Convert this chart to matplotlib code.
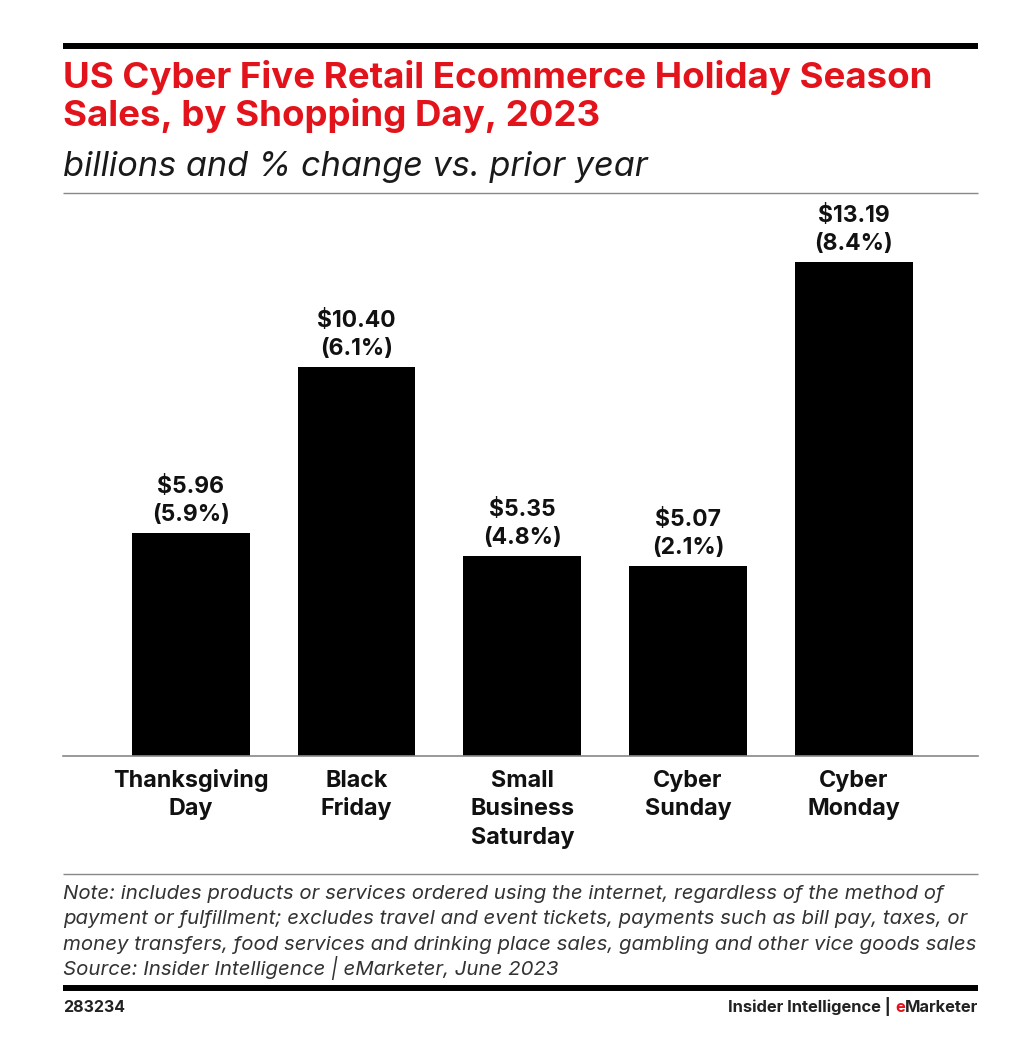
import matplotlib
matplotlib.use("Agg")
import matplotlib.pyplot as plt
from matplotlib.lines import Line2D
from matplotlib.transforms import blended_transform_factory

# data
days = ["Thanksgiving\nDay", "Black\nFriday", "Small\nBusiness\nSaturday", "Cyber\nSunday", "Cyber\nMonday"]
sales = [5.96, 10.40, 5.35, 5.07, 13.19]
pct_change = [5.9, 6.1, 4.8, 2.1, 8.4]

W, H = 1022, 1040
RED = "#e3131b"
plt.rcParams["font.family"] = ["Inter", "DejaVu Sans"]

fig = plt.figure(figsize=(W / 100, H / 100), dpi=100)


def fx(px):
    return px / W


def fy(py):
    return 1 - py / H


def hline(py, lw, color):
    fig.add_artist(Line2D([fx(63), fx(978)], [fy(py), fy(py)], lw=lw, color=color,
                          solid_capstyle="butt"))


# header
hline(46, 4.3, "black")
fig.text(fx(63), fy(88), "US Cyber Five Retail Ecommerce Holiday Season", color=RED,
         fontsize=26.4, fontweight="bold", va="baseline", ha="left")
fig.text(fx(63), fy(126), "Sales, by Shopping Day, 2023", color=RED,
         fontsize=26.4, fontweight="bold", va="baseline", ha="left")
fig.text(fx(63), fy(176), "billions and % change vs. prior year", color="#1a1a1a",
         fontsize=24.7, style="italic", va="baseline", ha="left")
hline(193, 1, "#888888")

# bar chart
ax = fig.add_axes([fx(63), fy(756), fx(978) - fx(63), fy(200) - fy(756)])
x = list(range(len(days)))
ax.bar(x, sales, width=0.71, color="black")
ax.set_xlim(-0.772, 4.75)
ax.set_ylim(0, (756 - 200) / 37.45)
for s in ["top", "right", "left"]:
    ax.spines[s].set_visible(False)
ax.spines["bottom"].set_color("#888888")
ax.spines["bottom"].set_linewidth(1.2)
ax.set_yticks([])
ax.set_xticks([])

# category labels, one line at a time
trans = blended_transform_factory(ax.transData, fig.transFigure)
for xi, name in zip(x, days):
    for k, line in enumerate(name.split("\n")):
        ax.text(xi, fy(787 + 28.3 * k), line, transform=trans, ha="center", va="baseline",
                fontsize=16.8, fontweight="bold", color="#111111")

# value labels above bars
for xi, v, p in zip(x, sales, pct_change):
    ax.annotate(f"({p}%)", (xi, v), xytext=(0, 8.6), textcoords="offset points",
                ha="center", va="baseline", fontsize=16.5, fontweight="bold", color="#111111")
    ax.annotate(f"${v:.2f}", (xi, v), xytext=(0, 8.6 + 20.2), textcoords="offset points",
                ha="center", va="baseline", fontsize=16.5, fontweight="bold", color="#111111")

# footer
hline(874, 1, "#888888")
note_lines = [
    "Note: includes products or services ordered using the internet, regardless of the method of",
    "payment or fulfillment; excludes travel and event tickets, payments such as bill pay, taxes, or",
    "money transfers, food services and drinking place sales, gambling and other vice goods sales",
    "Source: Insider Intelligence | eMarketer, June 2023",
]
for k, line in enumerate(note_lines):
    fig.text(fx(63), fy(899 + 25.4 * k), line, color="#333333", fontsize=14.7, style="italic",
             va="baseline", ha="left")
hline(988, 4.3, "black")
fig.text(fx(63), fy(1012), "283234", fontsize=11.5, fontweight="bold", va="baseline",
         ha="left", color="#222222")
t2 = fig.text(fx(978), fy(1012), "Marketer", fontsize=11.9, fontweight="bold", va="baseline",
              ha="right", color="#222222")
fig.canvas.draw()
bb = t2.get_window_extent()
t1 = fig.text(bb.x0 / W, fy(1012), "e", fontsize=11.9, fontweight="bold", va="baseline",
              ha="right", color=RED)
bb = t1.get_window_extent()
fig.text(bb.x0 / W, fy(1012), "Insider Intelligence | ", fontsize=11.9, fontweight="bold",
         va="baseline", ha="right", color="#222222")

fig.savefig("out.png", dpi=100)
